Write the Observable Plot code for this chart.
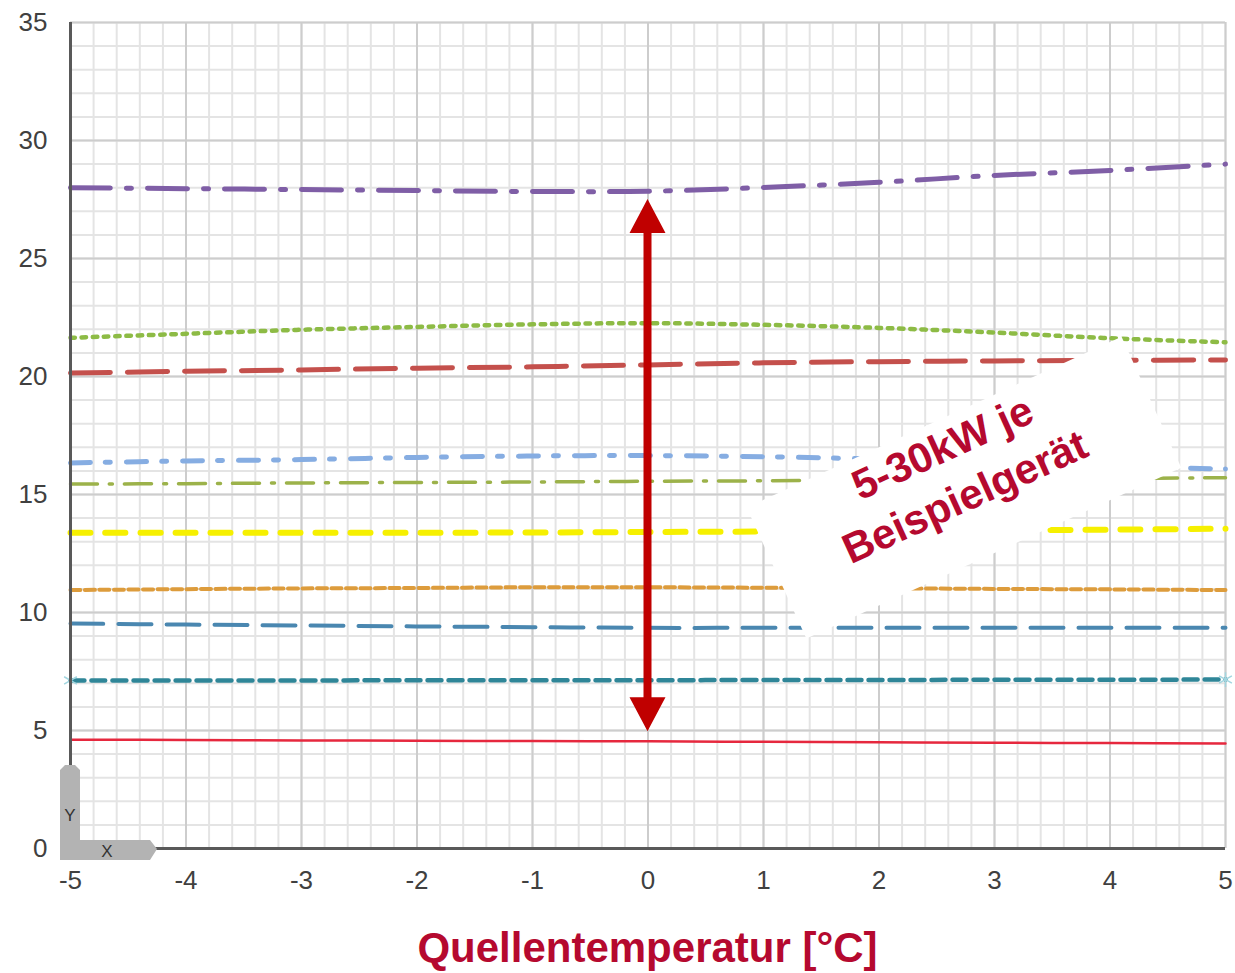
<!DOCTYPE html>
<html><head><meta charset="utf-8">
<script src="https://cdn.jsdelivr.net/npm/d3@7"></script>
<script src="https://cdn.jsdelivr.net/npm/@observablehq/plot@0.6"></script>
<style>
body{margin:0;background:#fff;font-family:"Liberation Sans",Arial,sans-serif;}
#chart svg{display:block;}
.xlabel{width:1155px;padding:9px 10px 0 70px;height:54px;line-height:57px;text-align:center;font-weight:bold;font-size:42px;color:#b5092f;font-family:"Liberation Sans",Arial,sans-serif;}
</style></head>
<body>
<div id="chart"></div>
<div class="xlabel">Quellentemperatur [°C]</div>
<script>
// ---- data ----
const temps = [-5, -4, -3, -2, -1, 0, 1, 2, 3, 4, 5];
const xTicks = [-5, -4, -3, -2, -1, 0, 1, 2, 3, 4, 5];
const yTicks = [0, 5, 10, 15, 20, 25, 30, 35];
const minorX = d3.range(-50, 51, 2).map(d => d / 10);
const minorY = d3.range(0, 36, 1);

const purple    = [28.0, 27.96, 27.92, 27.88, 27.84, 27.85, 28.01, 28.23, 28.52, 28.73, 29.0];
const green     = [21.64, 21.81, 21.98, 22.1, 22.21, 22.26, 22.19, 22.06, 21.86, 21.62, 21.45];
const red       = [20.15, 20.22, 20.28, 20.35, 20.41, 20.49, 20.58, 20.63, 20.66, 20.68, 20.7];
const lightBlue = [16.34, 16.42, 16.48, 16.57, 16.63, 16.65, 16.6, 16.5, 16.38, 16.21, 16.08];
const olive     = [15.44, 15.46, 15.49, 15.51, 15.53, 15.56, 15.58, 15.61, 15.64, 15.68, 15.71];
const yellow    = [13.38, 13.38, 13.38, 13.38, 13.39, 13.41, 13.43, 13.45, 13.48, 13.51, 13.55];
const orange    = [10.95, 10.99, 11.02, 11.04, 11.07, 11.07, 11.05, 11.03, 11.0, 10.98, 10.95];
const blue      = [9.53, 9.49, 9.45, 9.41, 9.38, 9.35, 9.35, 9.35, 9.35, 9.35, 9.35];
const teal      = [7.12, 7.12, 7.12, 7.13, 7.13, 7.13, 7.14, 7.14, 7.15, 7.15, 7.16];
const redSolid  = [4.61, 4.6, 4.58, 4.57, 4.55, 4.54, 4.52, 4.5, 4.48, 4.47, 4.45];

const arrowRange = [4.95, 27.5];   // kW span marked by the double arrow at x = 0
const arrowX = 0;
const noteAt = [2.74, 15.27];
const noteLines = ["5-30kW je", "Beispielgerät"];

// ---- styles ----
const seriesList = [
  {values: purple,    stroke: "#7f5ea6", width: 5,   dash: "40 16 5 16"},
  {values: green,     stroke: "#8dbb45", width: 4.5, dash: "4.5 6.7"},
  {values: red,       stroke: "#c4504c", width: 5,   dash: "40 17"},
  {values: lightBlue, stroke: "#86ade2", width: 5,   dash: "20 15 5 16"},
  {values: olive,     stroke: "#9cb24a", width: 3.5, dash: "27 12 3 12"},
  {values: yellow,    stroke: "#f6f000", width: 6,   dash: "20 15"},
  {values: orange,    stroke: "#dd9c3c", width: 4,   dash: "10 4.5"},
  {values: blue,      stroke: "#4a87b0", width: 4,   dash: "33 15"},
  {values: teal,      stroke: "#2f8698", width: 4.5, dash: "14 7"},
  {values: redSolid,  stroke: "#e6283e", width: 2.5, dash: null}
];
const tidy = s => temps.map((t, i) => ({t, v: s.values[i]}));

const arrowMark = (index, {x, y}) => {
  const g = d3.create("svg:g");
  const cx = x(arrowX), yTop = y(arrowRange[1]), yBot = y(arrowRange[0]);
  const hw = 18, hl = 34, sw = 4;
  g.append("path")
    .attr("fill", "#c00000")
    .attr("d", `M${cx},${yTop} L${cx+hw},${yTop+hl} L${cx+sw},${yTop+hl} L${cx+sw},${yBot-hl} L${cx+hw},${yBot-hl} L${cx},${yBot} L${cx-hw},${yBot-hl} L${cx-sw},${yBot-hl} L${cx-sw},${yTop+hl} L${cx-hw},${yTop+hl} Z`);
  return g.node();
};

const noteMark = (index, {x, y}) => {
  const g = d3.create("svg:g")
    .attr("transform", `translate(${x(noteAt[0])},${y(noteAt[1])}) rotate(-24.5)`);
  g.append("rect").attr("x", -206).attr("y", -72).attr("width", 412).attr("height", 144)
    .attr("fill", "white").attr("shape-rendering", "geometricPrecision");
  g.selectAll("text").data(noteLines).join("text")
    .attr("x", -3).attr("y", (d, i) => i === 0 ? -31 : 23)
    .attr("text-anchor", "middle")
    .attr("font-family", "Liberation Sans, Arial, sans-serif")
    .attr("font-weight", "bold").attr("font-size", 42)
    .attr("fill", "#b5092f")
    .text(d => d);
  return g.node();
};

const originIcon = (index, {x, y}) => {
  const ox = x(-5), oy = y(0);
  const g = d3.create("svg:g").attr("transform", `translate(${ox},${oy})`);
  g.append("path").attr("fill", "#b3b3b3")
    .attr("d", "M-10,-78 L-5,-83 L5,-83 L10,-78 L10,-8 L80,-8 L87,1 L80,12 L-10,12 Z");
  g.append("text").attr("x", 0).attr("y", -33).attr("text-anchor", "middle").attr("dy", "0.35em")
    .attr("font-size", 17).attr("fill", "#333").attr("font-family", "Liberation Sans, Arial, sans-serif").text("Y");
  g.append("text").attr("x", 37).attr("y", 3).attr("text-anchor", "middle").attr("dy", "0.35em")
    .attr("font-size", 17).attr("fill", "#333").attr("font-family", "Liberation Sans, Arial, sans-serif").text("X");
  return g.node();
};

const chart = Plot.plot({
  width: 1235, height: 910,
  marginLeft: 70, marginRight: 10, marginTop: 22, marginBottom: 62,
  x: {domain: [-5, 5]},
  y: {domain: [0, 35]},
  style: {fontFamily: "Liberation Sans, Arial, sans-serif", fontSize: "26px", color: "#404040", background: "white"},
  marks: [
    Plot.ruleX(minorX, {stroke: "#e4e4e4", strokeWidth: 2}),
    Plot.ruleY(minorY, {stroke: "#e4e4e4", strokeWidth: 2}),
    Plot.ruleX(xTicks, {stroke: "#cdcdcd", strokeWidth: 2}),
    Plot.ruleY(yTicks, {stroke: "#cdcdcd", strokeWidth: 2}),
    Plot.axisX({ticks: xTicks, tickSize: 0, tickPadding: 22, label: null, tickFormat: d => String(d)}),
    Plot.axisY({ticks: yTicks, tickSize: 0, tickPadding: 23, label: null, tickFormat: d => String(d)}),
    ...seriesList.map(s => Plot.line(tidy(s), {
      x: "t", y: "v", stroke: s.stroke, strokeWidth: s.width,
      strokeDasharray: s.dash || undefined, curve: "catmull-rom"
    })),
    Plot.dot([{t: temps[0], v: teal[0]}, {t: temps[temps.length - 1], v: teal[teal.length - 1]}],
      {x: "t", y: "v", symbol: "asterisk", r: 7, stroke: "#a3d6e0", strokeWidth: 1.5}),
    Plot.ruleX([-5], {stroke: "#595959", strokeWidth: 3}),
    Plot.ruleY([0], {stroke: "#595959", strokeWidth: 3}),
    arrowMark,
    noteMark,
    originIcon
  ]
});
document.getElementById("chart").appendChild(chart);
</script>
</body></html>
